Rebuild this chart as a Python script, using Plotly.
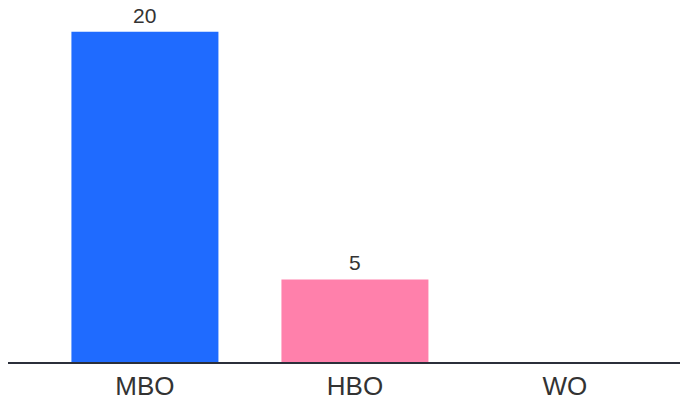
import plotly.graph_objects as go

categories = ["MBO", "HBO", "WO"]
values = [20, 5, 0]
colors = ["#1f6bff", "#ff80ab", "#9e9e9e"]

fig = go.Figure(go.Bar(
    x=categories,
    y=values,
    marker=dict(color=colors, line=dict(width=0)),
    width=0.7,
    cliponaxis=False,
    hoverinfo="x+y",
))

for c, v in zip(categories, values):
    if v:
        fig.add_annotation(
            x=c, y=v, xref="x", yref="y",
            text=str(v), showarrow=False,
            yanchor="bottom", yshift=3,
            font=dict(size=21, color="#333333", family="Liberation Sans"),
        )

fig.update_layout(
    width=680, height=393,
    margin=dict(l=0, r=0, t=0, b=35),
    paper_bgcolor="white", plot_bgcolor="white",
    showlegend=False,
    font=dict(family="Liberation Sans", color="#333333"),
    xaxis=dict(
        range=[-0.652, 2.586],
        showline=True, linecolor="#2b2f3a", linewidth=2,
        showgrid=False, ticks="",
        tickfont=dict(size=26, color="#333333"),
    ),
    yaxis=dict(
        range=[0, 21.44],
        visible=False, showgrid=False, zeroline=False,
    ),
)

fig.write_html("out.html")
